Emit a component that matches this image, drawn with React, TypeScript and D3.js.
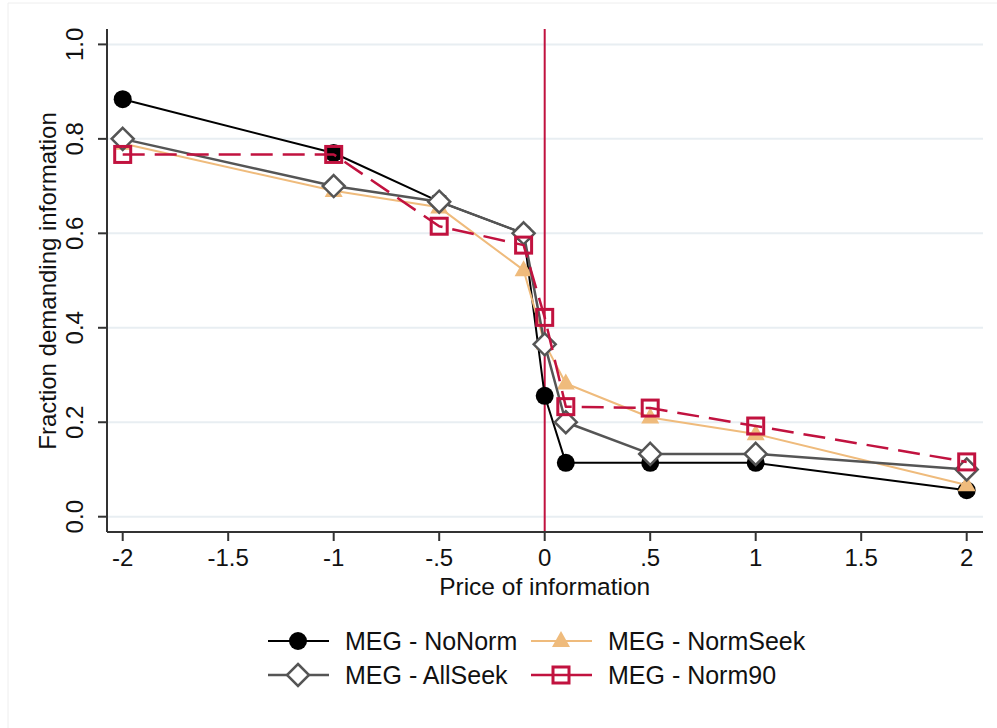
import React from "react";
import * as d3 from "d3";

const prices = [-2, -1, -0.5, -0.1, 0, 0.1, 0.5, 1, 2];
const noNorm = [0.884, 0.77, 0.667, 0.6, 0.256, 0.114, 0.114, 0.114, 0.056];
const normSeek = [0.79, 0.69, 0.655, 0.522, 0.367, 0.282, 0.21, 0.175, 0.067];
const allSeek = [0.8, 0.7, 0.667, 0.6, 0.365, 0.2, 0.133, 0.133, 0.1];
const norm90 = [0.767, 0.767, 0.615, 0.575, 0.422, 0.233, 0.23, 0.192, 0.116];

const xTicks = [-2, -1.5, -1, -0.5, 0, 0.5, 1, 1.5, 2];
const xTickLabels = ["-2", "-1.5", "-1", "-.5", "0", ".5", "1", "1.5", "2"];
const yTicks = [0, 0.2, 0.4, 0.6, 0.8, 1.0];
const yTickLabels = ["0.0", "0.2", "0.4", "0.6", "0.8", "1.0"];

const FONT = "'Liberation Sans', Arial, Helvetica, sans-serif";
const ORANGE = "#efbb7c";
const RED = "#c1123f";
const GRAY = "#555555";

type Series = { name: string; values: number[]; color: string; width: number; dash?: string; marker: string };

const series: Series[] = [
  { name: "MEG - NoNorm", values: noNorm, color: "#000000", width: 2, marker: "circle" },
  { name: "MEG - NormSeek", values: normSeek, color: ORANGE, width: 2, marker: "triangle" },
  { name: "MEG - AllSeek", values: allSeek, color: GRAY, width: 2.5, marker: "diamond" },
  { name: "MEG - Norm90", values: norm90, color: RED, width: 2.5, dash: "22,10", marker: "square" },
];

function Marker({ type, x, y, color }: { type: string; x: number; y: number; color: string }) {
  if (type === "circle") return <circle cx={x} cy={y} r={9} fill={color} />;
  if (type === "triangle") {
    const h = 16, w = 18;
    return <path d={`M${x},${y - h * 0.62} L${x + w / 2},${y + h * 0.38} L${x - w / 2},${y + h * 0.38} Z`} fill={color} />;
  }
  if (type === "diamond") {
    const r = 11;
    return <path d={`M${x},${y - r} L${x + r},${y} L${x},${y + r} L${x - r},${y} Z`} fill="#ffffff" stroke={color} strokeWidth={2.5} />;
  }
  const s = 16;
  return <rect x={x - s / 2} y={y - s / 2} width={s} height={s} fill="none" stroke={color} strokeWidth={3} />;
}

export default function App() {
  const left = 107, right = 983, top = 29, bottom = 532;
  const x = d3.scaleLinear().domain([-2, 2]).range([122.7, 966.7]);
  const y = d3.scaleLinear().domain([0, 1]).range([516.7, 44.4]);
  const line = d3.line<number>().x((_, i) => x(prices[i])).y((v) => y(v));

  const legendRows = [
    { s: series[0], lx: 268, ly: 641 },
    { s: series[1], lx: 531, ly: 641 },
    { s: series[2], lx: 268, ly: 675 },
    { s: series[3], lx: 531, ly: 675 },
  ];

  return (
    <svg width={997} height={728} style={{ position: "absolute", left: 0, top: 0, background: "#fff" }} fontFamily={FONT}>
      <rect x={0} y={0} width={997} height={728} fill="#ffffff" />
      <line x1={8} y1={3} x2={997} y2={3} stroke="#eeeeee" strokeWidth={1} />
      <line x1={8} y1={3} x2={8} y2={728} stroke="#eeeeee" strokeWidth={1} />
      {yTicks.map((t) => (
        <line key={"g" + t} x1={left} x2={right} y1={y(t)} y2={y(t)} stroke="#e8eef2" strokeWidth={2} />
      ))}
      <line x1={x(0)} x2={x(0)} y1={top} y2={bottom} stroke={RED} strokeWidth={2} />
      {series.map((s) => (
        <g key={s.name}>
          <path d={line(s.values) || ""} fill="none" stroke={s.color} strokeWidth={s.width} strokeDasharray={s.dash} strokeLinejoin="round" />
          {s.values.map((v, i) => (
            <Marker key={i} type={s.marker} x={x(prices[i])} y={y(v)} color={s.color} />
          ))}
        </g>
      ))}
      <line x1={left} x2={left} y1={top} y2={bottom} stroke="#333" strokeWidth={2} />
      <line x1={left} x2={right} y1={bottom} y2={bottom} stroke="#333" strokeWidth={2} />
      {yTicks.map((t, i) => (
        <g key={"yt" + t}>
          <line x1={left - 9} x2={left} y1={y(t)} y2={y(t)} stroke="#333" strokeWidth={2} />
          <text transform={`translate(83,${y(t)}) rotate(-90)`} textAnchor="middle" fontSize={24} fill="#111">{yTickLabels[i]}</text>
        </g>
      ))}
      {xTicks.map((t, i) => (
        <g key={"xt" + t}>
          <line x1={x(t)} x2={x(t)} y1={bottom} y2={bottom + 9} stroke="#333" strokeWidth={2} />
          <text x={x(t)} y={566} textAnchor="middle" fontSize={24} fill="#111">{xTickLabels[i]}</text>
        </g>
      ))}
      <text x={x(0)} y={595} textAnchor="middle" fontSize={24.5} fill="#111">Price of information</text>
      <text transform={`translate(56,281) rotate(-90)`} textAnchor="middle" fontSize={24} fill="#111">Fraction demanding information</text>
      {legendRows.map(({ s, lx, ly }) => (
        <g key={"lg" + s.name}>
          <line x1={lx} x2={lx + 61} y1={ly} y2={ly} stroke={s.color} strokeWidth={s.width} />
          <Marker type={s.marker} x={lx + 30} y={ly} color={s.color} />
          <text x={lx + 77} y={ly + 8.5} fontSize={25} fill="#111">{s.name}</text>
        </g>
      ))}
    </svg>
  );
}
